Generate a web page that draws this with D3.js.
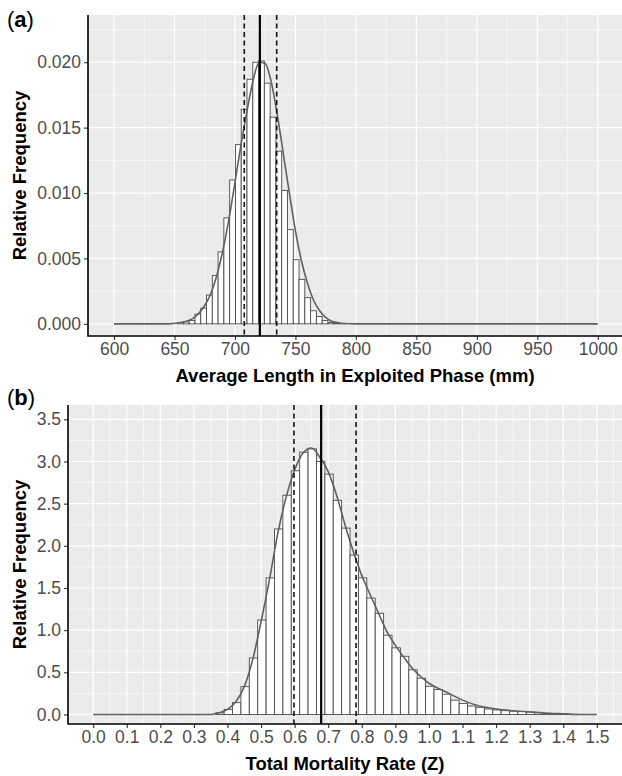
<!DOCTYPE html>
<html>
<head>
<meta charset="utf-8">
<script src="https://cdn.jsdelivr.net/npm/d3@7"></script>
<style>
body { margin: 0; background: #fff; }
svg { display: block; font-family: "Liberation Sans", Arial, sans-serif; }
</style>
</head>
<body>
<script>
// panel (a): average length in exploited phase
var lenBinStart = 652.6;
var lenBinWidth = 4.78;
var lenFreq = [0.0001, 0.00015, 0.00025, 0.00074, 0.0012, 0.0022, 0.0037, 0.0055, 0.0081, 0.0110,
    0.0137, 0.0164, 0.0187, 0.0200, 0.0201, 0.0184, 0.0158, 0.0132, 0.0102, 0.0072,
    0.0049, 0.0034, 0.0020, 0.0010, 0.00056, 0.00025, 0.0001, 0.00005, 0.00002];
var lenDensX = [600, 645, 655, 660, 665, 670, 675, 680, 685, 690, 695, 700, 705, 710, 715, 720,
    725, 730, 735, 740, 745, 750, 755, 760, 765, 770, 775, 780, 785, 790, 800, 1000];
var lenDensY = [0, 0, 0.0001, 0.0002, 0.0004, 0.0008, 0.0014, 0.0023, 0.0037, 0.0056, 0.0080, 0.0108,
    0.0137, 0.0163, 0.0186, 0.0200, 0.0199, 0.0185, 0.0160, 0.0130, 0.0100, 0.0071, 0.0048, 0.0031,
    0.0018, 0.0010, 0.0005, 0.0002, 0.0001, 0.00003, 0, 0];
var lenMedian = 720.6;
var lenCI = [707.7, 734.5];
var lenXTicks = [600, 650, 700, 750, 800, 850, 900, 950, 1000];
var lenYTicks = [0, 0.005, 0.010, 0.015, 0.020];

// panel (b): total mortality rate
var zBinStart = 0.365;
var zBinWidth = 0.025;
var zFreq = [0.02, 0.06, 0.14, 0.33, 0.67, 1.12, 1.62, 2.20, 2.60, 2.89,
    3.11, 3.15, 3.00, 2.85, 2.54, 2.21, 1.89, 1.62, 1.38, 1.20,
    0.94, 0.79, 0.69, 0.53, 0.43, 0.335, 0.295, 0.24, 0.17, 0.13,
    0.10, 0.085, 0.065, 0.053, 0.045, 0.04, 0.035, 0.03, 0.025, 0.015,
    0.012, 0.01];
var zDensX = [0, 0.35, 0.375, 0.4, 0.425, 0.45, 0.475, 0.5, 0.525, 0.55, 0.575, 0.6, 0.625, 0.65,
    0.675, 0.7, 0.725, 0.75, 0.775, 0.8, 0.825, 0.85, 0.875, 0.9, 0.925, 0.95, 0.975, 1.0,
    1.05, 1.1, 1.15, 1.2, 1.25, 1.3, 1.35, 1.4, 1.45, 1.5];
var zDensY = [0, 0, 0.02, 0.06, 0.15, 0.33, 0.65, 1.1, 1.6, 2.15, 2.58, 2.9, 3.1, 3.16,
    3.05, 2.88, 2.6, 2.25, 1.93, 1.65, 1.42, 1.2, 0.98, 0.82, 0.68, 0.55, 0.45, 0.37,
    0.27, 0.17, 0.1, 0.065, 0.045, 0.03, 0.015, 0.008, 0, 0];
var zMedian = 0.679;
var zCI = [0.598, 0.783];
var zXTicks = [0.0, 0.1, 0.2, 0.3, 0.4, 0.5, 0.6, 0.7, 0.8, 0.9, 1.0, 1.1, 1.2, 1.3, 1.4, 1.5];
var zYTicks = [0, 0.5, 1.0, 1.5, 2.0, 2.5, 3.0, 3.5];

var width = 622;
var height = 776;

var svg = d3.select("body").append("svg")
    .attr("width", width)
    .attr("height", height);

function drawPanel(opt) {
    var x = d3.scaleLinear().domain(opt.xDomain).range([opt.left, opt.right]);
    var y = d3.scaleLinear().domain(opt.yDomain).range([opt.bottom, opt.top]);
    var g = svg.append("g");

    g.append("rect")
        .attr("x", opt.left).attr("y", opt.top)
        .attr("width", opt.right - opt.left)
        .attr("height", opt.bottom - opt.top)
        .attr("fill", "#ebebeb");

    // minor grid
    g.selectAll(".minx").data(opt.xMinor).enter().append("line")
        .attr("x1", function(d) { return x(d); }).attr("x2", function(d) { return x(d); })
        .attr("y1", opt.top).attr("y2", opt.bottom)
        .attr("stroke", "#fff").attr("stroke-width", 0.6);
    g.selectAll(".miny").data(opt.yMinor).enter().append("line")
        .attr("y1", function(d) { return y(d); }).attr("y2", function(d) { return y(d); })
        .attr("x1", opt.left).attr("x2", opt.right)
        .attr("stroke", "#fff").attr("stroke-width", 0.6);
    // major grid
    g.selectAll(".majx").data(opt.xTicks).enter().append("line")
        .attr("x1", function(d) { return x(d); }).attr("x2", function(d) { return x(d); })
        .attr("y1", opt.top).attr("y2", opt.bottom)
        .attr("stroke", "#fff").attr("stroke-width", 1.2);
    g.selectAll(".majy").data(opt.yTicks).enter().append("line")
        .attr("y1", function(d) { return y(d); }).attr("y2", function(d) { return y(d); })
        .attr("x1", opt.left).attr("x2", opt.right)
        .attr("stroke", "#fff").attr("stroke-width", 1.2);

    // histogram bars
    g.selectAll(".bar").data(opt.freq).enter().append("rect")
        .attr("x", function(d, i) { return x(opt.binStart + i * opt.binWidth); })
        .attr("y", function(d) { return y(d); })
        .attr("width", function(d, i) {
            return x(opt.binStart + (i + 1) * opt.binWidth) - x(opt.binStart + i * opt.binWidth);
        })
        .attr("height", function(d) { return y(0) - y(d); })
        .attr("fill", "#fff")
        .attr("stroke", "#4a4a4a")
        .attr("stroke-width", 0.9);

    // density curve
    var line = d3.line()
        .x(function(d, i) { return x(opt.densX[i]); })
        .y(function(d) { return y(d); })
        .curve(d3.curveMonotoneX);
    g.append("path")
        .attr("d", line(opt.densY))
        .attr("fill", "none")
        .attr("stroke", "#606060")
        .attr("stroke-width", 1.6);

    // median and interval lines
    g.selectAll(".ci").data(opt.ci).enter().append("line")
        .attr("x1", function(d) { return x(d); }).attr("x2", function(d) { return x(d); })
        .attr("y1", opt.top).attr("y2", opt.bottom)
        .attr("stroke", "#111").attr("stroke-width", 1.6)
        .attr("stroke-dasharray", "5,3.5");
    g.append("line")
        .attr("x1", x(opt.median)).attr("x2", x(opt.median))
        .attr("y1", opt.top).attr("y2", opt.bottom)
        .attr("stroke", "#000").attr("stroke-width", 2.2);

    // axes
    var xAxis = d3.axisBottom(x).tickValues(opt.xTicks).tickSize(4).tickPadding(3)
        .tickFormat(opt.xFormat);
    var yAxis = d3.axisLeft(y).tickValues(opt.yTicks).tickSize(4).tickPadding(3)
        .tickFormat(opt.yFormat);
    var xg = g.append("g")
        .attr("transform", "translate(0," + opt.bottom + ")")
        .call(xAxis);
    var yg = g.append("g")
        .attr("transform", "translate(" + opt.left + ",0)")
        .call(yAxis);
    [xg, yg].forEach(function(a) {
        a.select(".domain").remove();
        a.selectAll(".tick line").attr("stroke", "#333").attr("stroke-width", 1.1);
        a.selectAll(".tick text").attr("fill", "#4d4d4d")
            .style("font-size", "17.5px").style("font-family", "Liberation Sans, Arial, sans-serif");
    });
    g.append("path")
        .attr("d", "M" + opt.left + "," + opt.top + "V" + opt.bottom + "H" + opt.right)
        .attr("fill", "none").attr("stroke", "#000").attr("stroke-width", 1.6);

    g.append("text")
        .attr("x", (opt.left + opt.right) / 2)
        .attr("y", opt.bottom + 46)
        .attr("text-anchor", "middle")
        .attr("font-size", "18.5px").attr("font-weight", "bold")
        .text(opt.xTitle);
    g.append("text")
        .attr("transform", "translate(26," + ((opt.top + opt.bottom) / 2) + ") rotate(-90)")
        .attr("text-anchor", "middle")
        .attr("font-size", "18.5px").attr("font-weight", "bold")
        .text("Relative Frequency");
    g.append("text")
        .attr("x", 7).attr("y", opt.labelY)
        .attr("font-size", "22px")
        .html("(<tspan font-weight='bold'>" + opt.label + "</tspan>)");
}

drawPanel({
    left: 88, right: 622, top: 15, bottom: 336,
    xDomain: [578.5, 1020], yDomain: [-0.00093, 0.02361],
    binStart: lenBinStart, binWidth: lenBinWidth, freq: lenFreq,
    densX: lenDensX, densY: lenDensY, median: lenMedian, ci: lenCI,
    xTicks: lenXTicks, yTicks: lenYTicks,
    xMinor: [625, 675, 725, 775, 825, 875, 925, 975],
    yMinor: [0.0025, 0.0075, 0.0125, 0.0175, 0.0225],
    xFormat: d3.format("d"), yFormat: d3.format(".3f"),
    xTitle: "Average Length in Exploited Phase (mm)", label: "a", labelY: 27
});

drawPanel({
    left: 68, right: 622, top: 405, bottom: 724,
    xDomain: [-0.075, 1.575], yDomain: [-0.113, 3.67],
    binStart: zBinStart, binWidth: zBinWidth, freq: zFreq,
    densX: zDensX, densY: zDensY, median: zMedian, ci: zCI,
    xTicks: zXTicks, yTicks: zYTicks,
    xMinor: [0.05, 0.15, 0.25, 0.35, 0.45, 0.55, 0.65, 0.75, 0.85, 0.95, 1.05, 1.15, 1.25, 1.35, 1.45, 1.55],
    yMinor: [0.25, 0.75, 1.25, 1.75, 2.25, 2.75, 3.25],
    xFormat: d3.format(".1f"), yFormat: d3.format(".1f"),
    xTitle: "Total Mortality Rate (Z)", label: "b", labelY: 405
});
</script>
</body>
</html>
